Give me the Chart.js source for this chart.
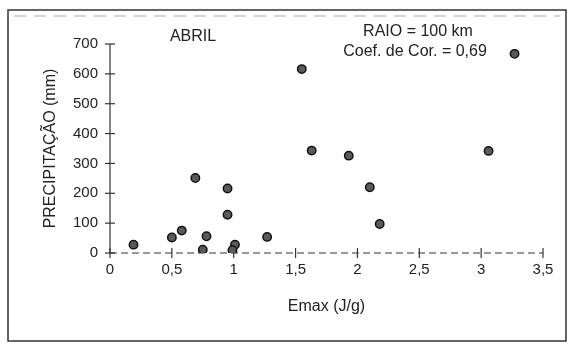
<!DOCTYPE html>
<html>
<head>
<meta charset="utf-8">
<script src="https://cdn.jsdelivr.net/npm/chart.js@4/dist/chart.umd.min.js"></script>
<style>
  body { margin: 0; background: #fff; }
  #grafico { display: block; }
</style>
</head>
<body>
<canvas id="grafico" width="569" height="346"></canvas>
<script>
// Valores (Emax em J/g, precipitação em mm)
const emax = [0.19, 0.50, 0.58, 0.69, 0.75, 0.78, 0.95, 0.95, 1.01, 0.99, 1.27, 1.55, 1.63, 1.93, 2.10, 2.18, 3.06, 3.27];
const precipitacao = [28, 52, 75, 251, 11, 56, 216, 128, 28, 9, 54, 616, 343, 326, 220, 97, 342, 667];
const ticksX = [0, 0.5, 1, 1.5, 2, 2.5, 3, 3.5];
const ticksY = [0, 100, 200, 300, 400, 500, 600, 700];
const anotacoes = ['ABRIL', 'RAIO = 100 km', 'Coef. de Cor. = 0,69'];

const pontos = emax.map((x, i) => ({ x: x, y: precipitacao[i] }));
const fonte = "'Liberation Sans', Arial, sans-serif";
const corTexto = '#222';

// Desenha os eixos com marcas em cruz e a moldura
const eixos = {
  id: 'eixos',
  beforeDatasetsDraw(chart) {
    const c = chart.ctx;
    const sx = chart.scales.x, sy = chart.scales.y;
    const x0 = sx.getPixelForValue(0), y0 = sy.getPixelForValue(0);
    c.save();
    c.strokeStyle = '#333';
    c.lineWidth = 1.2;
    // eixo y
    c.beginPath();
    c.moveTo(x0, sy.getPixelForValue(700));
    c.lineTo(x0, y0);
    c.stroke();
    ticksY.forEach(v => {
      const p = sy.getPixelForValue(v);
      c.beginPath(); c.moveTo(x0 - 5, p); c.lineTo(x0 + 5, p); c.stroke();
    });
    // eixo x tracejado
    c.setLineDash([7, 4]);
    c.beginPath();
    c.moveTo(x0, y0);
    c.lineTo(sx.getPixelForValue(3.5), y0);
    c.stroke();
    c.setLineDash([]);
    ticksX.forEach(v => {
      const p = sx.getPixelForValue(v);
      c.beginPath(); c.moveTo(p, y0 - 5); c.lineTo(p, y0 + 5); c.stroke();
    });
    c.restore();
  },
  afterDraw(chart) {
    const c = chart.ctx;
    c.save();
    c.strokeStyle = '#333';
    c.lineWidth = 1.5;
    c.strokeRect(8, 10, 558, 331);
    c.strokeStyle = '#aaa';
    c.lineWidth = 1;
    c.setLineDash([12, 8]);
    c.beginPath(); c.moveTo(14, 16); c.lineTo(560, 16); c.stroke();
    c.setLineDash([]);
    // textos do gráfico
    c.fillStyle = corTexto;
    c.font = '16px ' + fonte;
    c.textAlign = 'center';
    c.textBaseline = 'middle';
    c.fillText(anotacoes[0], 193, 37);
    c.fillText(anotacoes[1], 418, 32);
    c.fillText(anotacoes[2], 415, 52);
    c.restore();
  }
};

new Chart(document.getElementById('grafico'), {
  type: 'scatter',
  data: {
    datasets: [{
      data: pontos,
      backgroundColor: '#5a5a5a',
      borderColor: '#111',
      borderWidth: 1.5,
      pointRadius: 4.2
    }]
  },
  options: {
    responsive: false,
    animation: false,
    events: [],
    layout: { padding: { top: 44, right: 26, left: 0, bottom: 0 } },
    plugins: { legend: { display: false }, tooltip: { enabled: false } },
    scales: {
      x: {
        type: 'linear',
        min: 0, max: 3.5,
        afterFit: s => { s.height = 93; },
        afterBuildTicks: s => { s.ticks = ticksX.map(v => ({ value: v })); },
        grid: { display: false, drawTicks: false },
        border: { display: false },
        ticks: {
          padding: 8,
          color: corTexto,
          font: { family: fonte, size: 15 },
          callback: v => String(v).replace('.', ',')
        },
        title: {
          display: true,
          text: 'Emax (J/g)',
          color: corTexto,
          font: { family: fonte, size: 16 },
          padding: 30
        }
      },
      y: {
        type: 'linear',
        min: 0, max: 700,
        afterFit: s => { s.width = 110; },
        afterBuildTicks: s => { s.ticks = ticksY.map(v => ({ value: v })); },
        grid: { display: false, drawTicks: false },
        border: { display: false },
        ticks: {
          padding: 12,
          color: corTexto,
          font: { family: fonte, size: 15 }
        },
        title: {
          display: true,
          text: 'PRECIPITAÇÃO (mm)',
          color: corTexto,
          font: { family: fonte, size: 16 },
          padding: 41
        }
      }
    }
  },
  plugins: [eixos]
});
</script>
</body>
</html>
